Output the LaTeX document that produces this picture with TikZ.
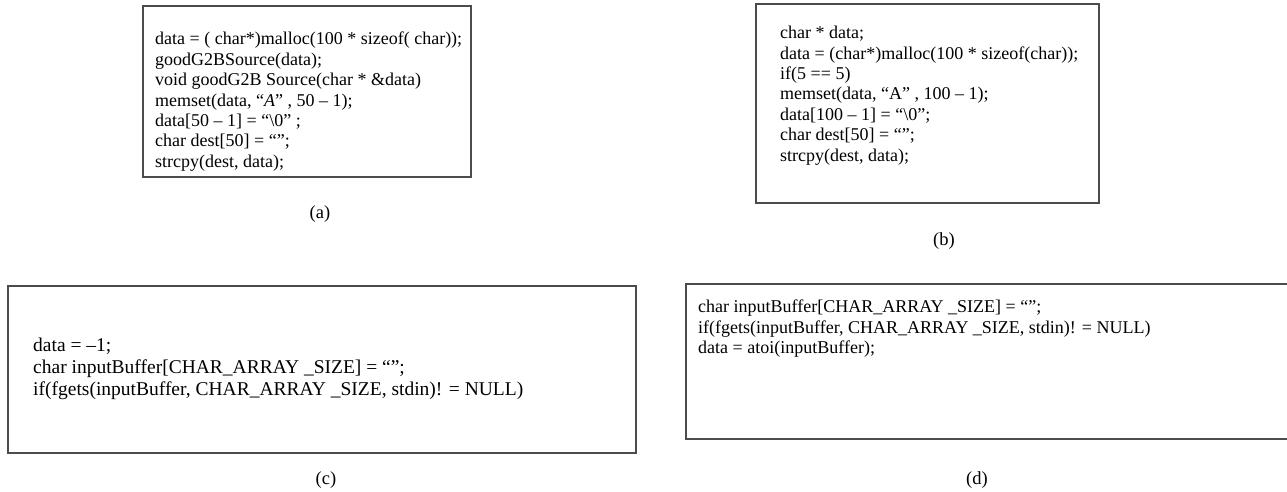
\documentclass[tikz,border=0pt]{standalone}
\usepackage{fontspec}
\setmainfont{Liberation Serif}
\usetikzlibrary{positioning}

\tikzset{
  codebox/.style={draw=black!70, line width=1.3pt, inner sep=0pt},
  codetext/.style={anchor=north west, align=left, inner sep=0pt,
    font=\fontsize{18}{20.4}\selectfont},
  bigtext/.style={codetext, font=\fontsize{19.5}{22}\selectfont},
  caption/.style={font=\fontsize{18.5}{20}\selectfont, inner sep=0pt}
}

\begin{document}
\begin{tikzpicture}[x=1pt, y=-1pt]
  \useasboundingbox (0,0) rectangle (1287,491);

  % upper row
  \node (boxa) [codebox, minimum width=328pt, minimum height=171pt] at (307,91.5) {};
  \node (texta) [codetext] at (155,32)
    {data = ( char*)malloc(100 * sizeof( char));\\
     goodG2BSource(data);\\
     void goodG2B Source(char * \&data)\\
     memset(data, “\textit{A}” , 50 -- 1);\\
     data[50 -- 1] = “\textbackslash0” ;\\
     char dest[50] = “”;\\
     strcpy(dest, data);};
  \node (capa) [caption] at (320,214) {(a)};

  \node (boxb) [codebox, minimum width=343pt, minimum height=199pt] at (927.5,103.5) {};
  \node (textb) [codetext] at (780,26)
    {char * data;\\
     data = (char*)malloc(100 * sizeof(char));\\
     if(5 == 5)\\
     memset(data, “A” , 100 -- 1);\\
     data[100 -- 1] = “\textbackslash0”;\\
     char dest[50] = “”;\\
     strcpy(dest, data);};
  \node (capb) [caption] at (944,241) {(b)};

  % lower row
  \node (boxc) [codebox, minimum width=628pt, minimum height=167pt] at (322,369.5) {};
  \node (textc) [bigtext] at (33,338)
    {data = --1;\\
     char inputBuffer[CHAR\_ARRAY \_SIZE] = “”;\\
     if(fgets(inputBuffer, CHAR\_ARRAY \_SIZE, stdin)! = NULL)};
  \node (capc) [caption] at (326,480) {(c)};

  \node (boxd) [codebox, minimum width=606pt, minimum height=155pt] at (989,361.5) {};
  \node (textd) [codetext] at (698,300)
    {char inputBuffer[CHAR\_ARRAY \_SIZE] = “”;\\
     if(fgets(inputBuffer, CHAR\_ARRAY \_SIZE, stdin)! = NULL)\\
     data = atoi(inputBuffer);};
  \node (capd) [caption] at (977,480) {(d)};
\end{tikzpicture}
\end{document}
